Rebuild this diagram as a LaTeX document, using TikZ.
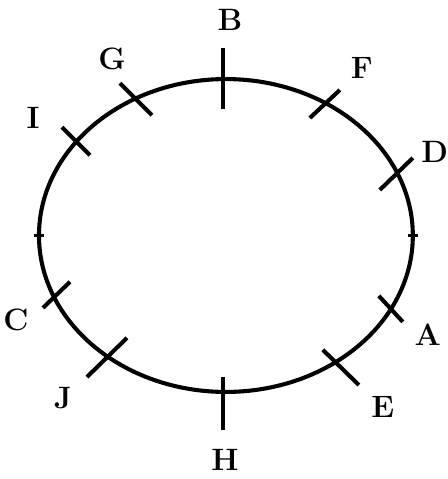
\documentclass[tikz,border=0pt]{standalone}
\usepackage{tikz}
\usetikzlibrary{calc}

\begin{document}
\begin{tikzpicture}[line width=2.9pt,
    lbl/.style={font=\fontsize{22}{26}\selectfont\bfseries, inner sep=0pt}]
  \useasboundingbox (-5.65,-6.09) rectangle (5.55,5.89);
  % the track
  \draw (0,0) ellipse (4.675 and 3.9125);
  % marks on the track
  \foreach \a/\b in {{-0.075,4.69}/{-0.075,3.16}, {-0.075,-3.54}/{-0.075,-4.86},
      {-2.65,3.81}/{-1.85,3.01}, {2.1,2.94}/{2.85,3.64},
      {-4.1,2.71}/{-3.4,2.01}, {3.85,1.14}/{4.675,1.94},
      {-4.575,-1.81}/{-3.9,-1.16}, {-3.475,-3.54}/{-2.475,-2.56},
      {3.825,-1.51}/{4.425,-2.16}, {2.425,-2.86}/{3.325,-3.74}}
    \draw (\a) -- (\b);
  \draw[line width=1.8pt] (-4.8,0) -- (-4.55,0);
  \draw[line width=1.8pt] (4.55,0) -- (4.8,0);
  % names
  \node[lbl] (lblB) at (0.1,5.39) {B};
  \node[lbl] (lblG) at (-2.85,4.41) {G};
  \node[lbl] (lblF) at (3.4,4.19) {F};
  \node[lbl] (lblI) at (-4.825,2.94) {I};
  \node[lbl] (lblD) at (5.225,2.09) {D};
  \node[lbl] (lblC) at (-5.25,-2.11) {C};
  \node[lbl] (lblA) at (5.05,-2.49) {A};
  \node[lbl] (lblJ) at (-4.075,-4.06) {J};
  \node[lbl] (lblE) at (3.925,-4.29) {E};
  \node[lbl] (lblH) at (-0.025,-5.61) {H};
\end{tikzpicture}
\end{document}
